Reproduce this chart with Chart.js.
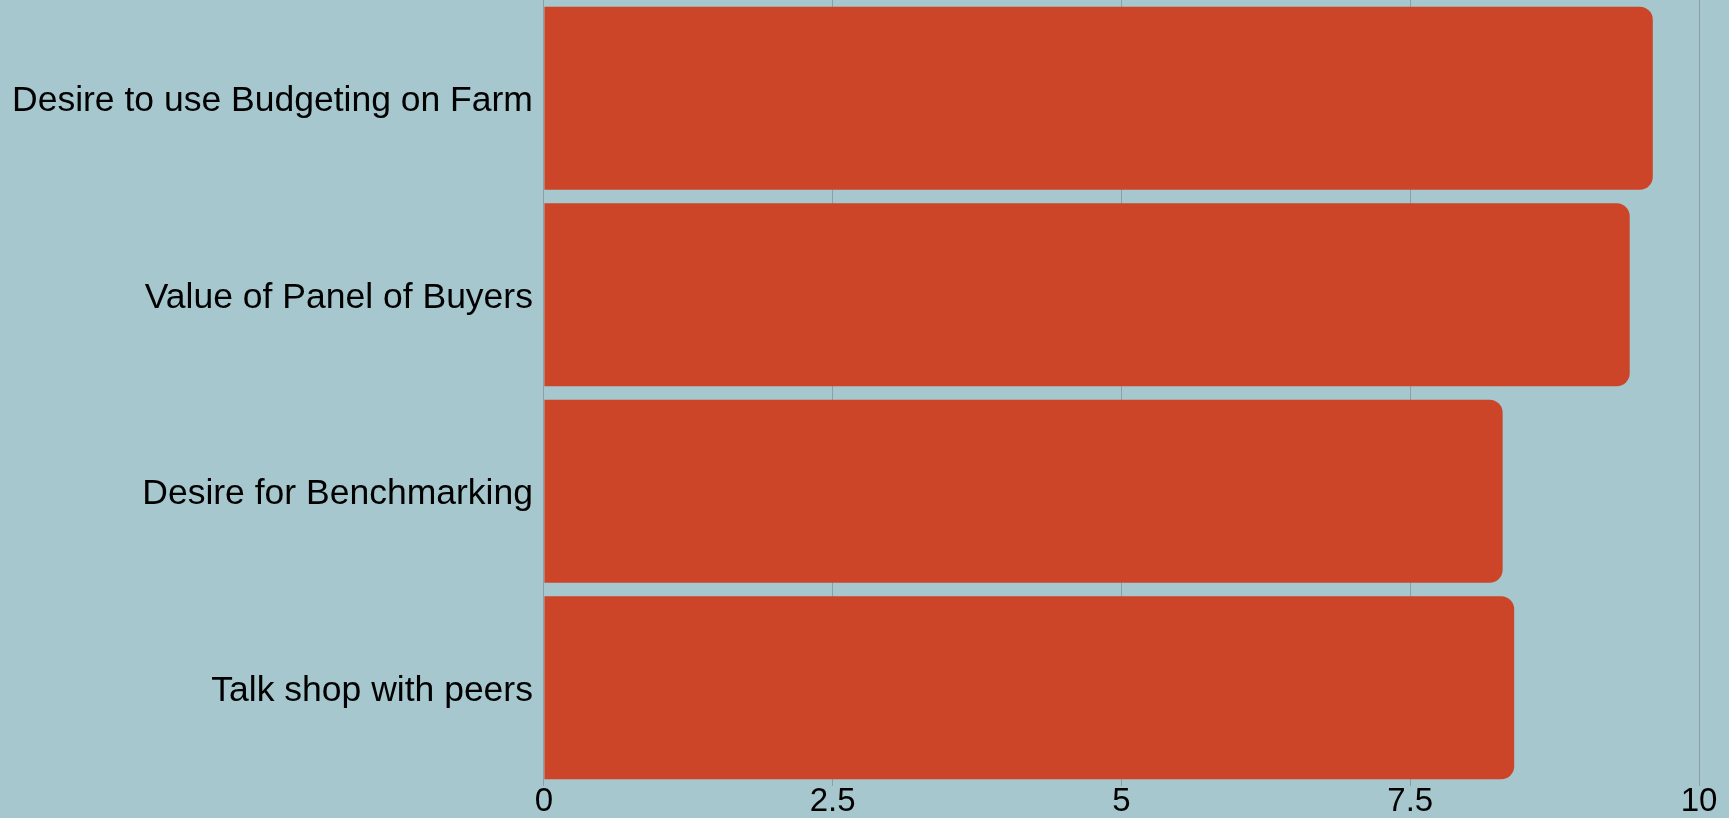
<!DOCTYPE html>
<html>
<head>
<meta charset="utf-8">
<title>Farm Survey</title>
<script src="https://cdn.jsdelivr.net/npm/chart.js@4.4.1/dist/chart.umd.min.js"></script>
<style>
    html, body { margin: 0; padding: 0; background: #a5c7cd; }
    #wrap { width: 1729px; height: 818px; position: relative; }
</style>
</head>
<body>
<div id="wrap"><canvas id="surveyChart"></canvas></div>
<script>
const CATEGORIES = [
    'Desire to use Budgeting on Farm',
    'Value of Panel of Buyers',
    'Desire for Benchmarking',
    'Talk shop with peers'
];
const SCORES = [9.6, 9.4, 8.3, 8.4];
const X_TICKS = [0, 2.5, 5, 7.5, 10];

const ctx = document.getElementById('surveyChart').getContext('2d');
const chart = new Chart(ctx, {
    type: 'bar',
    data: {
        labels: CATEGORIES,
        datasets: [
            {
                label: 'Score',
                data: SCORES,
                backgroundColor: '#cc4528',
                borderWidth: 0,
                borderRadius: 13,
                borderSkipped: 'start',
                categoryPercentage: 1,
                barPercentage: 0.932
            }
        ]
    },
    options: {
        indexAxis: 'y',
        responsive: true,
        maintainAspectRatio: false,
        animation: false,
        layout: {
            padding: { top: 0, right: 30, bottom: 0, left: 1 }
        },
        plugins: {
            legend: { display: false },
            tooltip: { enabled: false }
        },
        scales: {
            x: {
                min: 0,
                max: 10,
                afterBuildTicks: (axis) => {
                    axis.ticks = X_TICKS.map(v => ({ value: v }));
                },
                grid: {
                    color: '#8b9fa5',
                    lineWidth: 1,
                    drawTicks: false
                },
                border: { display: false },
                ticks: {
                    color: '#000',
                    padding: 0,
                    maxRotation: 0,
                    font: { family: 'Liberation Sans', size: 33, lineHeight: 0.97 }
                }
            },
            y: {
                grid: { display: false, drawTicks: false },
                border: { display: false },
                // bars run right up to the top edge, so drop the label overhang
                afterFit: (scale) => {
                    scale.paddingTop = 0;
                    scale.paddingBottom = 0;
                },
                ticks: {
                    color: '#000',
                    padding: 11,
                    labelOffset: 3,
                    font: { family: 'Liberation Sans', size: 35.5 }
                }
            }
        }
    }
});
</script>
</body>
</html>
